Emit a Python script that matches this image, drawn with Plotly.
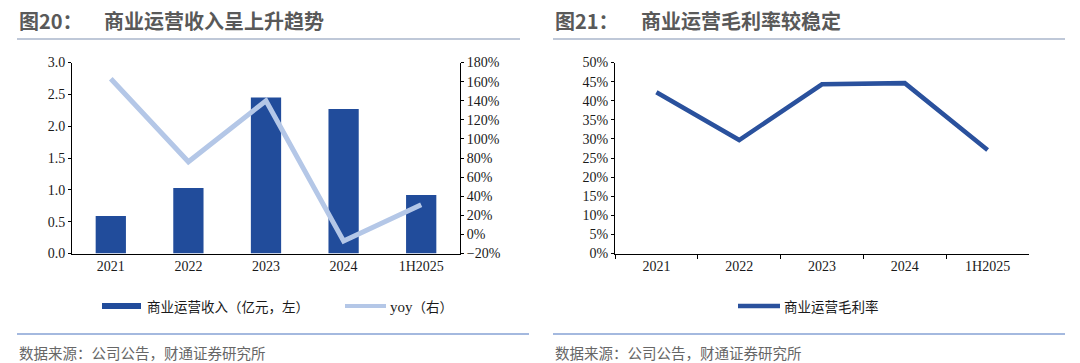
import plotly.graph_objects as go

W, H = 1080, 363

categories = ["2021", "2022", "2023", "2024", "1H2025"]
revenue = [0.59, 1.03, 2.45, 2.27, 0.92]          # 商业运营收入（亿元）
yoy = [1.63, 0.76, 1.40, -0.07, 0.31]              # yoy
gross_margin = [0.422, 0.297, 0.443, 0.446, 0.271]  # 商业运营毛利率

title_left_num = "图20："
title_left = "商业运营收入呈上升趋势"
title_right_num = "图21："
title_right = "商业运营毛利率较稳定"
legend_bar = "商业运营收入（亿元，左）"
legend_yoy = '<span style="font-family:Liberation Serif;font-size:15px">yoy</span>（右）'
legend_margin = "商业运营毛利率"
source = "数据来源：公司公告，财通证券研究所"

BAR = "#214c9b"
YOY = "#b4c7e7"
LINE = "#2a519d"
CJK = "Noto Sans CJK SC"
SERIF = "Liberation Serif"


def px(x):
    return x / W


def py(y):
    return 1 - y / H


fig = go.Figure()
fig.add_trace(go.Bar(x=categories, y=revenue, marker=dict(color=BAR, line=dict(width=0)),
                     width=0.39, name=legend_bar, xaxis="x", yaxis="y", showlegend=False))
fig.add_trace(go.Scatter(x=categories, y=yoy, mode="lines", line=dict(color=YOY, width=5),
                         name="yoy（右）", xaxis="x", yaxis="y2", showlegend=False))
fig.add_trace(go.Scatter(x=categories, y=gross_margin, mode="lines", line=dict(color=LINE, width=4.5),
                         name=legend_margin, xaxis="x2", yaxis="y3", showlegend=False))

tickfont = dict(family=SERIF, size=14, color="#1a1a1a")
ydom = [py(253.5), py(62.5)]

fig.update_layout(
    width=W, height=H, margin=dict(l=0, r=0, t=0, b=0, pad=0),
    paper_bgcolor="white", plot_bgcolor="white", showlegend=False,
    xaxis=dict(domain=[px(72), px(460)], type="category", range=[-0.5, 4.5], showline=True,
               linecolor="black", linewidth=1, ticks="", tickfont=tickfont, showgrid=False,
               zeroline=False, anchor="y", automargin=False),
    yaxis=dict(domain=ydom, range=[0, 3], dtick=0.5, tickformat=".1f", showline=True,
               linecolor="black", linewidth=1, ticks="outside", ticklen=3, tickcolor="black",
               tickfont=tickfont, showgrid=False, zeroline=False, anchor="x", automargin=False),
    yaxis2=dict(domain=ydom, range=[-0.2, 1.8], dtick=0.2, tickformat=".0%", overlaying="y",
                side="right", showline=True, linecolor="black", linewidth=1, ticks="outside",
                ticklen=3, tickcolor="black", tickfont=tickfont, showgrid=False,
                zeroline=False, anchor="x", automargin=False),
    xaxis2=dict(domain=[px(615), px(1029)], type="category", range=[-0.5, 4.5], showline=True,
                linecolor="black", linewidth=1, ticks="outside", tickson="boundaries", ticklen=4,
                tickcolor="black", tickfont=tickfont, showgrid=False, zeroline=False,
                anchor="y3", automargin=False),
    yaxis3=dict(domain=ydom, range=[0, 0.5], dtick=0.05, tickformat=".0%", showline=True,
                linecolor="black", linewidth=1, ticks="outside", ticklen=3, tickcolor="black",
                tickfont=tickfont, showgrid=False, zeroline=False, anchor="x2", automargin=False),
)

shapes = []
annotations = []


def text(x, y, s, size, color, bold=False, family=CJK, anchor="left"):
    annotations.append(dict(xref="paper", yref="paper", x=px(x), y=py(y), text=(f"<b>{s}</b>" if bold else s),
                            showarrow=False, xanchor=anchor, yanchor="middle",
                            font=dict(family=family, size=size, color=color)))


def hline(x0, x1, y, color, width):
    shapes.append(dict(type="line", xref="paper", yref="paper", x0=px(x0), x1=px(x1), y0=py(y), y1=py(y),
                       line=dict(color=color, width=width)))


# Titles
text(17, 20, title_left_num, 20, "#595959", bold=True)
text(102, 20, title_left, 20, "#595959", bold=True)
text(553, 20, title_right_num, 20, "#595959", bold=True)
text(639, 20, title_right, 20, "#595959", bold=True)
hline(17, 520, 39, "#aab6cb", 1.5)
hline(553, 1065, 39, "#aab6cb", 1.5)

# Legends
shapes.append(dict(type="rect", xref="paper", yref="paper", x0=px(102), x1=px(141), y0=py(309), y1=py(303),
                   fillcolor=BAR, line=dict(width=0)))
text(145, 306, legend_bar, 13.5, "#1a1a1a")
hline(345, 386, 306, YOY, 4)
text(388, 306, legend_yoy, 13.5, "#1a1a1a")
hline(738, 780, 306, LINE, 4.5)
text(782, 306, legend_margin, 13.5, "#1a1a1a")

# Source lines
hline(17, 529, 334, "#4a74c0", 1.2)
hline(553, 1065, 334, "#4a74c0", 1.2)
text(17, 352, source, 14.5, "#666666")
text(553, 352, source, 14.5, "#666666")

fig.update_layout(shapes=shapes, annotations=annotations)
fig.write_html("out.html", config={"displayModeBar": False},
               post_script="document.body.style.margin='0';document.body.style.overflow='hidden';")
